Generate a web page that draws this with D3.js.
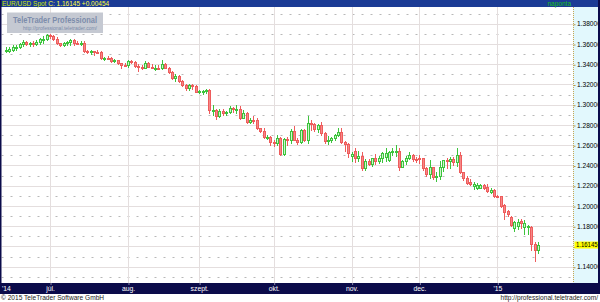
<!DOCTYPE html>
<html>
<head>
<meta charset="utf-8">
<script src="https://cdn.jsdelivr.net/npm/d3@7"></script>
<style>
body { margin: 0; background: #fff; }
svg { display: block; font-family: "Liberation Sans", Arial, sans-serif; }
</style>
</head>
<body>
<div id="chart"></div>
<script>
// daily EUR/USD candles [open, high, low, close], one array per month
const june = [
	[1.3530, 1.3575, 1.3522, 1.3544], [1.3535, 1.3567, 1.3525, 1.3548], [1.3540, 1.3588, 1.3532, 1.3571],
	[1.3560, 1.3590, 1.3536, 1.3575], [1.3575, 1.3613, 1.3560, 1.3601], [1.3601, 1.3639, 1.3585, 1.3620],
	[1.3620, 1.3626, 1.3588, 1.3603], [1.3603, 1.3618, 1.3578, 1.3608], [1.3610, 1.3625, 1.3583, 1.3600],
	[1.3600, 1.3635, 1.3591, 1.3620], [1.3620, 1.3660, 1.3601, 1.3646], [1.3646, 1.3676, 1.3611, 1.3652],
	[1.3652, 1.3701, 1.3641, 1.3692],
];
const july = [
	[1.3692, 1.3700, 1.3664, 1.3677], [1.3677, 1.3691, 1.3643, 1.3654], [1.3654, 1.3669, 1.3602, 1.3609],
	[1.3609, 1.3614, 1.3585, 1.3595], [1.3595, 1.3620, 1.3583, 1.3606], [1.3606, 1.3627, 1.3586, 1.3615],
	[1.3615, 1.3650, 1.3595, 1.3641], [1.3641, 1.3650, 1.3589, 1.3613], [1.3613, 1.3625, 1.3598, 1.3606],
	[1.3606, 1.3628, 1.3595, 1.3614], [1.3614, 1.3634, 1.3520, 1.3528], [1.3528, 1.3541, 1.3508, 1.3525],
	[1.3525, 1.3545, 1.3500, 1.3527], [1.3527, 1.3534, 1.3488, 1.3524], [1.3524, 1.3542, 1.3509, 1.3522],
	[1.3522, 1.3526, 1.3454, 1.3462], [1.3462, 1.3475, 1.3446, 1.3465], [1.3465, 1.3485, 1.3450, 1.3463],
	[1.3463, 1.3468, 1.3421, 1.3431], [1.3431, 1.3450, 1.3420, 1.3440], [1.3440, 1.3446, 1.3403, 1.3409],
	[1.3409, 1.3414, 1.3367, 1.3397], [1.3397, 1.3410, 1.3380, 1.3391],
];
const august = [
	[1.3391, 1.3444, 1.3376, 1.3428], [1.3428, 1.3440, 1.3410, 1.3418], [1.3418, 1.3430, 1.3375, 1.3385],
	[1.3385, 1.3400, 1.3333, 1.3375], [1.3375, 1.3397, 1.3350, 1.3361], [1.3361, 1.3432, 1.3360, 1.3412],
	[1.3412, 1.3423, 1.3376, 1.3375], [1.3375, 1.3400, 1.3360, 1.3363], [1.3363, 1.3390, 1.3345, 1.3366],
	[1.3366, 1.3395, 1.3350, 1.3363], [1.3363, 1.3443, 1.3355, 1.3402], [1.3402, 1.3410, 1.3360, 1.3362],
	[1.3362, 1.3368, 1.3313, 1.3320], [1.3320, 1.3330, 1.3252, 1.3263], [1.3263, 1.3300, 1.3236, 1.3282],
	[1.3282, 1.3294, 1.3222, 1.3239], [1.3239, 1.3240, 1.3185, 1.3191], [1.3191, 1.3205, 1.3150, 1.3162],
	[1.3162, 1.3200, 1.3148, 1.3197], [1.3197, 1.3205, 1.3151, 1.3183], [1.3183, 1.3198, 1.3128, 1.3130],
];
const september = [
	[1.3130, 1.3147, 1.3116, 1.3132], [1.3130, 1.3145, 1.3110, 1.3134], [1.3134, 1.3160, 1.3118, 1.3146],
	[1.3146, 1.3160, 1.2920, 1.2946], [1.2946, 1.2995, 1.2900, 1.2951], [1.2951, 1.2960, 1.2860, 1.2891],
	[1.2891, 1.2958, 1.2880, 1.2943], [1.2943, 1.2955, 1.2900, 1.2918], [1.2918, 1.2940, 1.2898, 1.2924],
	[1.2924, 1.2990, 1.2915, 1.2964], [1.2964, 1.2975, 1.2930, 1.2954], [1.2954, 1.2995, 1.2917, 1.2958],
	[1.2958, 1.2988, 1.2860, 1.2867], [1.2867, 1.2948, 1.2865, 1.2920], [1.2920, 1.2933, 1.2815, 1.2833],
	[1.2833, 1.2867, 1.2820, 1.2851], [1.2851, 1.2886, 1.2816, 1.2848], [1.2848, 1.2865, 1.2763, 1.2767],
	[1.2767, 1.2775, 1.2733, 1.2743], [1.2743, 1.2766, 1.2667, 1.2685], [1.2685, 1.2705, 1.2660, 1.2686],
	[1.2686, 1.2692, 1.2600, 1.2631],
];
const october = [
	[1.2631, 1.2655, 1.2589, 1.2622], [1.2622, 1.2700, 1.2600, 1.2670], [1.2670, 1.2680, 1.2501, 1.2515],
	[1.2515, 1.2670, 1.2500, 1.2664], [1.2664, 1.2680, 1.2600, 1.2652], [1.2652, 1.2765, 1.2620, 1.2742],
	[1.2742, 1.2790, 1.2650, 1.2653], [1.2653, 1.2670, 1.2614, 1.2628], [1.2628, 1.2760, 1.2620, 1.2747],
	[1.2747, 1.2765, 1.2640, 1.2652], [1.2652, 1.2887, 1.2620, 1.2822], [1.2822, 1.2846, 1.2747, 1.2806],
	[1.2806, 1.2815, 1.2740, 1.2760], [1.2760, 1.2810, 1.2735, 1.2798], [1.2798, 1.2834, 1.2700, 1.2718],
	[1.2718, 1.2730, 1.2622, 1.2640], [1.2640, 1.2690, 1.2610, 1.2650], [1.2650, 1.2686, 1.2635, 1.2669],
	[1.2669, 1.2715, 1.2650, 1.2704], [1.2704, 1.2769, 1.2690, 1.2735], [1.2735, 1.2766, 1.2620, 1.2631],
	[1.2631, 1.2641, 1.2545, 1.2611], [1.2611, 1.2620, 1.2484, 1.2526],
];
const november = [
	[1.2495, 1.2531, 1.2440, 1.2515], [1.2545, 1.2575, 1.2437, 1.2478], [1.2478, 1.2548, 1.2445, 1.2490],
	[1.2490, 1.2533, 1.2358, 1.2377], [1.2377, 1.2466, 1.2357, 1.2448], [1.2448, 1.2466, 1.2400, 1.2418],
	[1.2418, 1.2478, 1.2392, 1.2477], [1.2477, 1.2510, 1.2418, 1.2441], [1.2441, 1.2494, 1.2420, 1.2477],
	[1.2477, 1.2532, 1.2430, 1.2526], [1.2485, 1.2577, 1.2445, 1.2525], [1.2450, 1.2543, 1.2440, 1.2533],
	[1.2533, 1.2572, 1.2503, 1.2544], [1.2544, 1.2600, 1.2495, 1.2548], [1.2544, 1.2575, 1.2359, 1.2389],
	[1.2389, 1.2450, 1.2385, 1.2444], [1.2444, 1.2497, 1.2412, 1.2474], [1.2474, 1.2531, 1.2460, 1.2505],
	[1.2505, 1.2515, 1.2448, 1.2468], [1.2468, 1.2485, 1.2430, 1.2452],
];
const december = [
	[1.2472, 1.2500, 1.2420, 1.2460], [1.2473, 1.2478, 1.2360, 1.2380], [1.2380, 1.2390, 1.2297, 1.2312],
	[1.2312, 1.2456, 1.2279, 1.2381], [1.2381, 1.2388, 1.2270, 1.2289], [1.2285, 1.2340, 1.2246, 1.2292],
	[1.2292, 1.2444, 1.2269, 1.2383], [1.2383, 1.2457, 1.2350, 1.2454], [1.2454, 1.2470, 1.2380, 1.2443],
	[1.2443, 1.2486, 1.2380, 1.2464], [1.2464, 1.2480, 1.2405, 1.2437], [1.2437, 1.2570, 1.2395, 1.2504],
	[1.2504, 1.2530, 1.2322, 1.2336], [1.2336, 1.2340, 1.2260, 1.2272], [1.2272, 1.2295, 1.2220, 1.2226],
	[1.2240, 1.2265, 1.2210, 1.2220], [1.2200, 1.2235, 1.2165, 1.2215], [1.2175, 1.2225, 1.2165, 1.2210],
	[1.2180, 1.2215, 1.2175, 1.2205], [1.2210, 1.2220, 1.2170, 1.2180], [1.2185, 1.2215, 1.2135, 1.2145],
	[1.2140, 1.2175, 1.2130, 1.2160], [1.2160, 1.2165, 1.2090, 1.2100],
];
const january = [
	[1.2100, 1.2110, 1.2085, 1.2095], [1.2095, 1.2100, 1.1995, 1.2000], [1.2005, 1.2015, 1.1870, 1.1940],
	[1.1950, 1.1965, 1.1900, 1.1925], [1.1890, 1.1902, 1.1800, 1.1815], [1.1785, 1.1850, 1.1753, 1.1840],
	[1.1800, 1.1868, 1.1777, 1.1845], [1.1850, 1.1868, 1.1787, 1.1830], [1.1790, 1.1866, 1.1728, 1.1835],
	[1.1790, 1.1817, 1.1728, 1.1800], [1.1790, 1.1805, 1.1570, 1.1627], [1.1627, 1.1640, 1.1460, 1.1566],
	[1.1566, 1.1642, 1.1540, 1.16145],
];

// month grid lines start at the first candle of each of these months
const month_data = [july, august, september, october, november, december, january];
const month_labels = ["júl.", "aug.", "szept.", "okt.", "nov.", "dec.", "'15"];
const price_ticks = [1.14, 1.16, 1.18, 1.20, 1.22, 1.24, 1.26, 1.28, 1.30, 1.32, 1.34, 1.36, 1.38];
const last_price = 1.16145;
const change = 0.00454;

const W = 600, H = 302;
const plot = {left: 1.5, right: 573, top: 7, bottom: 283};
const navy = "#0b0b4a";

const candles = [].concat(june, ...month_data);
const month_starts = [];
let acc = june.length;
for (const m of month_data) {
	month_starts.push(acc);
	acc += m.length;
}

const x = d3.scaleLinear()
	.domain([0, candles.length - 1])
	.range([6, 538]);
const y = d3.scaleLinear()
	.domain([1.14, 1.38])
	.range([266.75, 23.75]);
const px = v => Math.round(v) + 0.5;

const svg = d3.select("#chart")
	.append("svg")
		.attr("width", W)
		.attr("height", H);

svg.append("defs").append("clipPath")
	.attr("id", "plotclip")
	.append("rect")
		.attr("x", plot.left)
		.attr("y", plot.top)
		.attr("width", plot.right - plot.left)
		.attr("height", plot.bottom - plot.top);

// backgrounds
svg.append("rect").attr("width", W).attr("height", H).attr("fill", "#fff");
svg.append("rect")
	.attr("x", plot.right).attr("y", plot.top)
	.attr("width", W - plot.right).attr("height", plot.bottom - plot.top)
	.attr("fill", "#e2f8fd");

const grid = svg.append("g").attr("clip-path", "url(#plotclip)");

// dotted half levels
grid.selectAll("line.minor")
	.data(d3.range(1.13, 1.395, 0.02))
	.join("line")
		.attr("class", "minor")
		.attr("x1", plot.left).attr("x2", plot.right)
		.attr("y1", d => px(y(d))).attr("y2", d => px(y(d)))
		.attr("stroke", "#b8b8b8")
		.attr("stroke-dasharray", "2,7");

grid.selectAll("line.major")
	.data(price_ticks)
	.join("line")
		.attr("class", "major")
		.attr("x1", plot.left).attr("x2", plot.right)
		.attr("y1", d => px(y(d))).attr("y2", d => px(y(d)))
		.attr("stroke", "#e4dede");

grid.selectAll("line.month")
	.data(month_starts)
	.join("line")
		.attr("class", "month")
		.attr("x1", d => px(x(d))).attr("x2", d => px(x(d)))
		.attr("y1", plot.top).attr("y2", plot.bottom)
		.attr("stroke", "#e4dede");

// watermark
svg.append("rect")
	.attr("x", 7).attr("y", 12.5).attr("width", 96).attr("height", 20.5)
	.attr("fill", "#c5c9d2");
svg.append("text")
	.attr("x", 13).attr("y", 23)
	.attr("font-size", 9.5).attr("font-weight", "bold")
	.attr("textLength", 84).attr("lengthAdjust", "spacingAndGlyphs")
	.attr("fill", "#7c8cab")
	.text("TeleTrader Professional");
svg.append("text")
	.attr("x", 23).attr("y", 30)
	.attr("font-size", 5.5)
	.attr("textLength", 74).attr("lengthAdjust", "spacingAndGlyphs")
	.attr("fill", "#7c8cab")
	.text("http://professional.teletrader.com/");

// candles
const up_color = {stroke: "#3cc43c", fill: "#cdf5cd"};
const down_color = {stroke: "#ee5c5c", fill: "#f58888"};
const bars = svg.append("g")
	.attr("clip-path", "url(#plotclip)")
	.selectAll("g")
	.data(candles)
	.join("g");

bars.append("line")
	.attr("x1", (d, i) => px(x(i))).attr("x2", (d, i) => px(x(i)))
	.attr("y1", d => Math.round(y(d[1]))).attr("y2", d => Math.round(y(d[2])) + 1)
	.attr("stroke", d => (d[3] >= d[0] ? up_color : down_color).stroke);

bars.append("rect")
	.attr("x", (d, i) => Math.round(x(i)) - 0.5)
	.attr("y", d => px(y(Math.max(d[0], d[3]))))
	.attr("width", 2)
	.attr("height", d => Math.max(1, Math.round(y(Math.min(d[0], d[3]))) - Math.round(y(Math.max(d[0], d[3])))))
	.attr("fill", d => (d[3] >= d[0] ? up_color : down_color).fill)
	.attr("stroke", d => (d[3] >= d[0] ? up_color : down_color).stroke);

// price axis; the 1.16 label gives way to the last price marker
const y_axis = svg.append("g")
	.attr("transform", "translate(" + plot.right + ",0)")
	.call(d3.axisRight(y).tickValues(price_ticks).tickSize(2).tickPadding(2)
		.tickFormat(d => Math.abs(d - last_price) < 0.005 ? "" : d3.format(".5f")(d)));
y_axis.select(".domain").remove();
y_axis.selectAll("line").attr("stroke", "#b89848").attr("transform", "translate(0.5,0.5)");
y_axis.selectAll("text")
	.attr("font-size", 6.6)
	.attr("font-family", "Liberation Sans, Arial, sans-serif")
	.attr("fill", "#000");
svg.append("line")
	.attr("x1", plot.right + 0.5).attr("x2", plot.right + 0.5)
	.attr("y1", plot.top).attr("y2", plot.bottom)
	.attr("stroke", "#c9a650")
	.attr("stroke-dasharray", "1,1");

// last price marker
svg.append("rect")
	.attr("x", plot.right + 1.5).attr("y", y(last_price) - 3.5)
	.attr("width", W - plot.right - 3.5).attr("height", 7)
	.attr("fill", "#ffff00");
svg.append("text")
	.attr("x", plot.right + 3).attr("y", y(last_price))
	.attr("dy", "0.32em")
	.attr("font-size", 6.6)
	.attr("textLength", 21.5).attr("lengthAdjust", "spacingAndGlyphs")
	.attr("fill", "#000")
	.text(d3.format(".5f")(last_price));

// header bar
svg.append("rect").attr("width", W).attr("height", plot.top).attr("fill", "#1b3b95");
svg.append("text")
	.attr("x", 2).attr("y", 6)
	.attr("font-size", 6.5)
	.call(t => {
		t.append("tspan").attr("fill", "#cde800").text("EUR/USD Spot ");
		t.append("tspan").attr("fill", "#ffff3c").text("C: " + d3.format(".5f")(last_price) + " +" + d3.format(".5f")(change));
	});
svg.append("text")
	.attr("x", 571).attr("y", 6)
	.attr("text-anchor", "end")
	.attr("font-size", 6.5)
	.attr("fill", "#18c018")
	.text("naponta");

// time axis band
svg.append("rect")
	.attr("x", 0).attr("y", plot.bottom)
	.attr("width", W).attr("height", 11)
	.attr("fill", navy);
const x_axis = svg.append("g")
	.attr("transform", "translate(0," + plot.bottom + ")")
	.call(d3.axisBottom(x).tickValues(month_starts).tickSize(2).tickPadding(1)
		.tickFormat((d, i) => month_labels[i]));
x_axis.select(".domain").remove();
x_axis.selectAll("line").attr("stroke", "#8888aa").attr("transform", "translate(0.5,0)");
x_axis.selectAll("text")
	.attr("font-size", 6.8)
	.attr("font-family", "Liberation Sans, Arial, sans-serif")
	.attr("fill", "#fff");
svg.append("text")
	.attr("x", 2).attr("y", plot.bottom + 8)
	.attr("font-size", 6.8)
	.attr("fill", "#fff")
	.text("'14");

// borders
svg.append("rect").attr("x", 0).attr("y", 0).attr("width", 1.5).attr("height", plot.bottom).attr("fill", navy);
svg.append("rect").attr("x", W - 2).attr("y", 0).attr("width", 2).attr("height", plot.bottom + 11).attr("fill", navy);

// footer
svg.append("text")
	.attr("x", 1).attr("y", 300)
	.attr("font-size", 6.6)
	.attr("fill", "#222")
	.text("© 2015 TeleTrader Software GmbH");
svg.append("text")
	.attr("x", 598).attr("y", 300)
	.attr("text-anchor", "end")
	.attr("font-size", 6.6)
	.attr("fill", "#222")
	.text("http://professional.teletrader.com/");
</script>
</body>
</html>
